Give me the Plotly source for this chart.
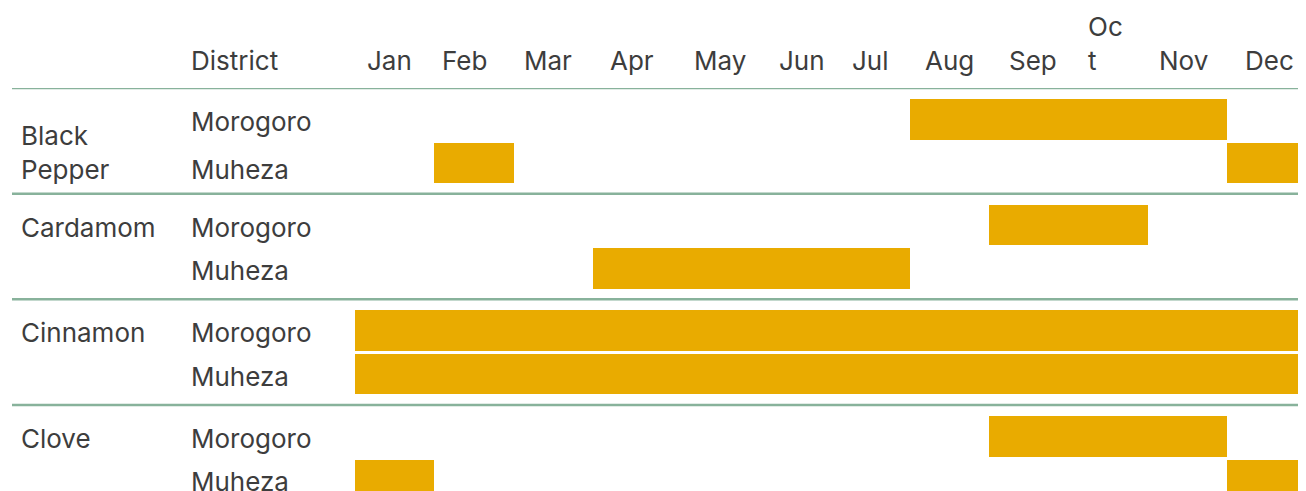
import plotly.graph_objects as go

# ---------------- data ----------------
crops = ["Black Pepper", "Cardamom", "Cinnamon", "Clove"]
crop_labels = ["Black<br>Pepper", "Cardamom", "Cinnamon", "Clove"]
districts = ["Morogoro", "Muheza"]
months = ["Jan", "Feb", "Mar", "Apr", "May", "Jun", "Jul", "Aug", "Sep", "Oct", "Nov", "Dec"]
month_labels = ["Jan", "Feb", "Mar", "Apr", "May", "Jun", "Jul", "Aug", "Sep", "Oc<br>t", "Nov", "Dec"]
header_district = "District"

# harvest months for each crop / district
black_pepper_morogoro = ["Aug", "Sep", "Oct", "Nov"]
black_pepper_muheza = ["Feb", "Dec"]
cardamom_morogoro = ["Sep", "Oct"]
cardamom_muheza = ["Apr", "May", "Jun", "Jul"]
cinnamon_morogoro = ["Jan", "Feb", "Mar", "Apr", "May", "Jun", "Jul", "Aug", "Sep", "Oct", "Nov", "Dec"]
cinnamon_muheza = ["Jan", "Feb", "Mar", "Apr", "May", "Jun", "Jul", "Aug", "Sep", "Oct", "Nov", "Dec"]
clove_morogoro = ["Sep", "Oct", "Nov"]
clove_muheza = ["Jan", "Dec"]

harvest = {
    ("Black Pepper", "Morogoro"): black_pepper_morogoro,
    ("Black Pepper", "Muheza"): black_pepper_muheza,
    ("Cardamom", "Morogoro"): cardamom_morogoro,
    ("Cardamom", "Muheza"): cardamom_muheza,
    ("Cinnamon", "Morogoro"): cinnamon_morogoro,
    ("Cinnamon", "Muheza"): cinnamon_muheza,
    ("Clove", "Morogoro"): clove_morogoro,
    ("Clove", "Muheza"): clove_muheza,
}

# ---------------- layout constants (page pixels, page has 8px body margin) ----------------
OFF = 8
PAGE_W, PAGE_H = 1306, 491
W, H = PAGE_W - OFF, PAGE_H - OFF
ML, MR, MT, MB = 12 - OFF, 0, 88 - OFF, 0
ROW_PX = 43.5
GROUP = 105.67 / ROW_PX
TOP_PAD = 11 / ROW_PX
BAR_T = 40.5 / ROW_PX
X0_PX = 355 - OFF  # where Jan starts (figure px)
MONTH_PX = (W - MR - X0_PX) / 12.0
x_min = -(X0_PX - ML) / MONTH_PX
y_max = (H - MT - MB) / ROW_PX

# header label offsets (in month units) so that labels sit like the reference's columns
HEADER_SHIFT = [-0.07, -0.12, -0.06, 0.0, 0.1, 0.14, 0.0, 0.0, 0.06, -0.03, -0.04, 0.04]

BAR_COLOR = "#E9AB00"
LINE_COLOR = "#88B29B"
TEXT_COLOR = "#3D3D3D"
FONT = "Inter"
FS = 26
PADX = 3  # annotation border padding


def row_center(ci, di):
    return ci * GROUP + TOP_PAD + BAR_T / 2 + di


def px_x(page_px):
    return (page_px - PADX - OFF - ML) / (W - ML - MR)


def px_y(page_py):
    return 1 + (MT - (page_py - OFF)) / (H - MT - MB)


# build bar runs from consecutive months
ys, bases, lens = [], [], []
for ci, c in enumerate(crops):
    for di, d in enumerate(districts):
        idx = sorted(months.index(m) for m in harvest[(c, d)])
        start = prev = None
        for i in idx:
            if start is None:
                start = prev = i
            elif i == prev + 1:
                prev = i
            else:
                ys.append(row_center(ci, di)); bases.append(start); lens.append(prev - start + 1)
                start = prev = i
        if start is not None:
            ys.append(row_center(ci, di)); bases.append(start); lens.append(prev - start + 1)

fig = go.Figure()
fig.add_trace(go.Bar(
    orientation="h", y=ys, x=lens, base=bases, width=BAR_T,
    marker=dict(color=BAR_COLOR, line=dict(width=0)),
    hoverinfo="skip", showlegend=False,
))

shapes = []
for ci in range(len(crops)):
    yl = ci * GROUP
    shapes.append(dict(type="line", xref="paper", yref="y", x0=0, x1=1, y0=yl, y1=yl,
                       line=dict(color=LINE_COLOR, width=2.5), layer="above"))

ann = []
font = dict(family=FONT, size=FS, color=TEXT_COLOR)
# header
ann.append(dict(text=header_district, xref="paper", yref="paper", x=px_x(192), y=px_y(60.5),
                xanchor="left", yanchor="middle", showarrow=False, font=font))
for i, lab in enumerate(month_labels):
    yc = 60.5 if "<br>" not in lab else 43.5
    ann.append(dict(text=lab, xref="x", yref="paper", x=i + 0.5 + HEADER_SHIFT[i], y=px_y(yc),
                    xanchor="center", yanchor="middle", showarrow=False, font=font, align="left"))
# rows
for ci, c in enumerate(crops):
    yc = row_center(ci, 0) + (0.77 if "<br>" in crop_labels[ci] else 0.05)
    ann.append(dict(text=crop_labels[ci], xref="paper", yref="y", x=px_x(22), y=yc,
                    xanchor="left", yanchor="middle", showarrow=False, font=font, align="left"))
    for di, d in enumerate(districts):
        extra = 0.1 if (ci == 0 and di == 1) else 0.0
        ann.append(dict(text=d, xref="paper", yref="y", x=px_x(192),
                        y=row_center(ci, di) + 0.05 + extra,
                        xanchor="left", yanchor="middle", showarrow=False, font=font))

fig.update_layout(
    width=W, height=H,
    margin=dict(l=ML, r=MR, t=MT, b=MB, pad=0),
    paper_bgcolor="white", plot_bgcolor="white",
    xaxis=dict(range=[x_min, 12], visible=False, fixedrange=True),
    yaxis=dict(range=[y_max, 0], visible=False, fixedrange=True),
    shapes=shapes, annotations=ann, bargap=0,
    font=dict(family=FONT, color=TEXT_COLOR),
)

fig.write_html("out.html", config={"displayModeBar": False})
